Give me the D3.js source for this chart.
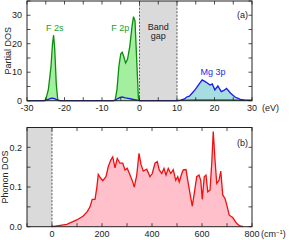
<!DOCTYPE html>
<html lang="en">
<head>
    <meta charset="UTF-8">
    <title>Partial DOS and Phonon DOS</title>
    <script src="https://d3js.org/d3.v7.min.js"></script>
    <style>
        body { margin: 0; background: #fff; }
        svg { display: block; font-family: "Liberation Sans", Arial, sans-serif; }
        .tick-label { font-size: 9px; fill: #222; }
        .axis-title { font-size: 9px; fill: #222; }
    </style>
</head>
<body>
    <svg id="chart" width="291" height="240"></svg>

    <script>
        // electronic partial DOS (eV, states)
        const fEnergy = [-30, -25.6, -25, -24.3, -23.6, -23.2, -22.9, -22.6, -22.2, -21.8, -21.2,
                         -7, -6.5, -6, -5.5, -5, -4.6, -4.2, -3.7, -3.2, -2.6, -2, -1.6, -1.2, -0.8, -0.3, 0,
                         10, 12, 15, 18, 21, 24, 27, 30];
        const fDos = [0, 0, 0.3, 4, 12, 20, 23, 18, 6, 0.3, 0,
                      0, 0.2, 4, 12, 16.5, 17, 15.5, 13.2, 14.5, 19, 26, 29.5, 28, 16, 1, 0,
                      0, 0.2, 0.3, 0.3, 0.3, 0.3, 0.2, 0.2];

        const mgEnergy = [-30, -25.2, -24.5, -23.5, -22.8, -22, -21.4,
                          -7, -6.5, -6, -5.3, -4.6, -3.8, -3, -2.2, -1.4, -0.6, 0,
                          10, 11, 12, 12.6, 13.3, 14, 14.9, 15.7, 16.7, 17.4, 18, 18.8, 19.4, 20.1, 20.9,
                          21.8, 22.5, 23.2, 24.3, 25, 25.6, 26.3, 26.9, 28, 30];
        const mgDos = [0, 0, 0.4, 0.9, 0.8, 0.3, 0,
                       0, 0.1, 0.6, 1.1, 1.3, 1, 0.8, 0.6, 0.4, 0.2, 0,
                       0, 0.2, 0.6, 1.3, 1.6, 2.6, 4, 5.5, 7.3, 6.8, 6.3, 5.5, 5.9, 3.8, 5.2,
                       3.2, 3.6, 4.3, 2.6, 1.8, 1.2, 0.8, 0.5, 0.2, 0.1];

        // phonon DOS (cm^-1)
        const phFreq = [0, 59, 99, 125, 141, 152, 161, 172, 179, 185, 195, 203, 216, 225, 235, 243, 252, 261,
                        272, 283, 292, 301, 312, 323, 329, 339, 348, 356, 365, 379, 392, 401, 412, 421, 429,
                        439, 448, 456, 465, 475, 485, 495, 503, 509, 519, 525, 536, 543, 552, 561, 569, 579,
                        588, 595, 601, 609, 616, 623, 632, 639, 645, 652, 659, 668, 675, 683, 692, 699, 709,
                        723, 739, 752, 765];
        const phDos = [0, 0.006, 0.017, 0.027, 0.038, 0.05, 0.069, 0.069, 0.097, 0.132, 0.122, 0.116, 0.126,
                       0.151, 0.168, 0.176, 0.148, 0.172, 0.16, 0.16, 0.143, 0.147, 0.13, 0.113, 0.1, 0.13,
                       0.185, 0.157, 0.14, 0.145, 0.126, 0.134, 0.16, 0.164, 0.143, 0.134, 0.147, 0.13, 0.147,
                       0.134, 0.144, 0.117, 0.126, 0.113, 0.134, 0.143, 0.144, 0.117, 0.084, 0.052, 0.084,
                       0.126, 0.13, 0.117, 0.069, 0.126, 0.13, 0.088, 0.092, 0.16, 0.24, 0.168, 0.109, 0.117,
                       0.14, 0.08, 0.071, 0.055, 0.029, 0.023, 0.008, 0.002, 0];

        const eTicks = [-30, -20, -10, 0, 10, 20, 30];
        const dosTicks = [0, 10, 20, 30];
        const wTicks = [0, 200, 400, 600, 800];
        const phTicks = [0, 0.1, 0.2];

        const svg = d3.select("#chart");
        const left = 27, right = 252;

        // ---------- panel (a) ----------
        const xa = d3.scaleLinear().domain([-30, 30]).range([left, right]);
        const ya = d3.scaleLinear().domain([0, 35]).range([100.7, 1]);

        const fData = fEnergy.map((e, i) => [e, fDos[i]]);
        const mgData = mgEnergy.map((e, i) => [e, mgDos[i]]);

        const ga = svg.append("g");
        ga.append("rect")
            .attr("x", xa(0)).attr("y", ya(35))
            .attr("width", xa(10) - xa(0)).attr("height", ya(0) - ya(35))
            .attr("fill", "#dadada");

        const areaA = d3.area().x(d => xa(d[0])).y0(ya(0)).y1(d => ya(d[1]));
        const lineA = d3.line().x(d => xa(d[0])).y(d => ya(d[1]));

        ga.append("path").datum(fData.filter(d => d[0] <= 0))
            .attr("d", areaA).attr("fill", "#a3ef9f");
        ga.append("path").datum(mgData.filter(d => d[0] >= 10))
            .attr("d", areaA).attr("fill", "#a6dde0");
        ga.append("path").datum(fData)
            .attr("d", lineA).attr("fill", "none").attr("stroke", "#0b8f0b").attr("stroke-width", 1.3);
        ga.append("path").datum(mgData)
            .attr("d", lineA).attr("fill", "none").attr("stroke", "#1a1ae6").attr("stroke-width", 1.3);

        [0, 10].forEach(v => {
            ga.append("line")
                .attr("x1", xa(v)).attr("x2", xa(v)).attr("y1", ya(0)).attr("y2", ya(35))
                .attr("stroke", "#333").attr("stroke-width", 0.8).attr("stroke-dasharray", "2,1.5");
        });

        drawFrame(ga, xa, ya, d3.range(-30, 31, 5), d3.range(0, 36, 5));

        ga.selectAll(".xl").data(eTicks).join("text")
            .attr("class", "tick-label")
            .attr("x", d => xa(d)).attr("y", 111)
            .attr("text-anchor", "middle")
            .text(d => d);
        ga.selectAll(".yl").data(dosTicks).join("text")
            .attr("class", "tick-label")
            .attr("x", 22).attr("y", d => ya(d) + 3.2)
            .attr("text-anchor", "end")
            .text(d => d);

        ga.append("text").attr("class", "axis-title")
            .attr("transform", `translate(10.5,${(ya(0) + ya(35)) / 2}) rotate(-90)`)
            .attr("text-anchor", "middle").text("Partial DOS");
        ga.append("text").attr("class", "axis-title")
            .attr("x", 262).attr("y", 111).text("(eV)");
        ga.append("text").attr("class", "axis-title")
            .attr("x", 248).attr("y", 18).attr("text-anchor", "end").text("(a)");

        ga.append("text").attr("x", xa(-22.6)).attr("y", 31).attr("text-anchor", "middle")
            .attr("font-size", 9).attr("fill", "#1a9e1a").text("F 2s");
        ga.append("text").attr("x", xa(-5.1)).attr("y", 31).attr("text-anchor", "middle")
            .attr("font-size", 9).attr("fill", "#1a9e1a").text("F 2p");
        ga.append("text").attr("x", xa(5)).attr("y", 29.5).attr("text-anchor", "middle")
            .attr("font-size", 9).attr("fill", "#222").text("Band");
        ga.append("text").attr("x", xa(5)).attr("y", 38.5).attr("text-anchor", "middle")
            .attr("font-size", 9).attr("fill", "#222").text("gap");
        ga.append("text").attr("x", xa(19.6)).attr("y", 74.5).attr("text-anchor", "middle")
            .attr("font-size", 9).attr("fill", "#2a2ae0").text("Mg 3p");

        // ---------- panel (b) ----------
        const xb = d3.scaleLinear().domain([-100, 800]).range([left, right]);
        const yb = d3.scaleLinear().domain([0, 0.25]).range([226.7, 127.5]);
        const phData = phFreq.map((w, i) => [w, phDos[i]]);

        const gb = svg.append("g");
        gb.append("rect")
            .attr("x", xb(-100)).attr("y", yb(0.25))
            .attr("width", xb(0) - xb(-100)).attr("height", yb(0) - yb(0.25))
            .attr("fill", "#dadada");

        gb.append("path").datum(phData)
            .attr("d", d3.area().x(d => xb(d[0])).y0(yb(0)).y1(d => yb(d[1])))
            .attr("fill", "#ffc0cb");
        gb.append("path").datum(phData)
            .attr("d", d3.line().x(d => xb(d[0])).y(d => yb(d[1])))
            .attr("fill", "none").attr("stroke", "#f01010").attr("stroke-width", 1.3);

        gb.append("line")
            .attr("x1", xb(0)).attr("x2", xb(0)).attr("y1", yb(0)).attr("y2", yb(0.25))
            .attr("stroke", "#333").attr("stroke-width", 0.8).attr("stroke-dasharray", "2,1.5");

        drawFrame(gb, xb, yb, d3.range(-100, 801, 100), [0, 0.05, 0.1, 0.15, 0.2, 0.25]);

        gb.selectAll(".xl").data(wTicks).join("text")
            .attr("class", "tick-label")
            .attr("x", d => xb(d)).attr("y", 237)
            .attr("text-anchor", "middle")
            .text(d => d);
        gb.selectAll(".yl").data(phTicks).join("text")
            .attr("class", "tick-label")
            .attr("x", 22).attr("y", d => yb(d) + 3.2)
            .attr("text-anchor", "end")
            .text(d => d3.format(".1f")(d));

        gb.append("text").attr("class", "axis-title")
            .attr("transform", `translate(8,${(yb(0) + yb(0.25)) / 2}) rotate(-90)`)
            .attr("text-anchor", "middle").text("Phonon DOS");
        const unit = gb.append("text").attr("class", "axis-title").attr("x", 261).attr("y", 237);
        unit.append("tspan").text("(cm");
        unit.append("tspan").attr("dy", -3.5).attr("font-size", 6).text("−1");
        unit.append("tspan").attr("dy", 3.5).text(")");
        gb.append("text").attr("class", "axis-title")
            .attr("x", 248).attr("y", 146).attr("text-anchor", "end").text("(b)");

        // box with inward ticks on all four sides
        function drawFrame(g, x, y, xt, yt) {
            const [x0, x1] = x.range();
            const [y0, y1] = y.range();
            const t = 3.5;
            xt.forEach(v => {
                g.append("line").attr("x1", x(v)).attr("x2", x(v)).attr("y1", y0).attr("y2", y0 - t)
                    .attr("stroke", "#222").attr("stroke-width", 0.8);
                g.append("line").attr("x1", x(v)).attr("x2", x(v)).attr("y1", y1).attr("y2", y1 + t)
                    .attr("stroke", "#222").attr("stroke-width", 0.8);
            });
            yt.forEach(v => {
                g.append("line").attr("x1", x0).attr("x2", x0 + t).attr("y1", y(v)).attr("y2", y(v))
                    .attr("stroke", "#222").attr("stroke-width", 0.8);
                g.append("line").attr("x1", x1).attr("x2", x1 - t).attr("y1", y(v)).attr("y2", y(v))
                    .attr("stroke", "#222").attr("stroke-width", 0.8);
            });
            g.append("rect")
                .attr("x", x0).attr("y", y1).attr("width", x1 - x0).attr("height", y0 - y1)
                .attr("fill", "none").attr("stroke", "#222").attr("stroke-width", 1);
        }
    </script>
</body>
</html>
